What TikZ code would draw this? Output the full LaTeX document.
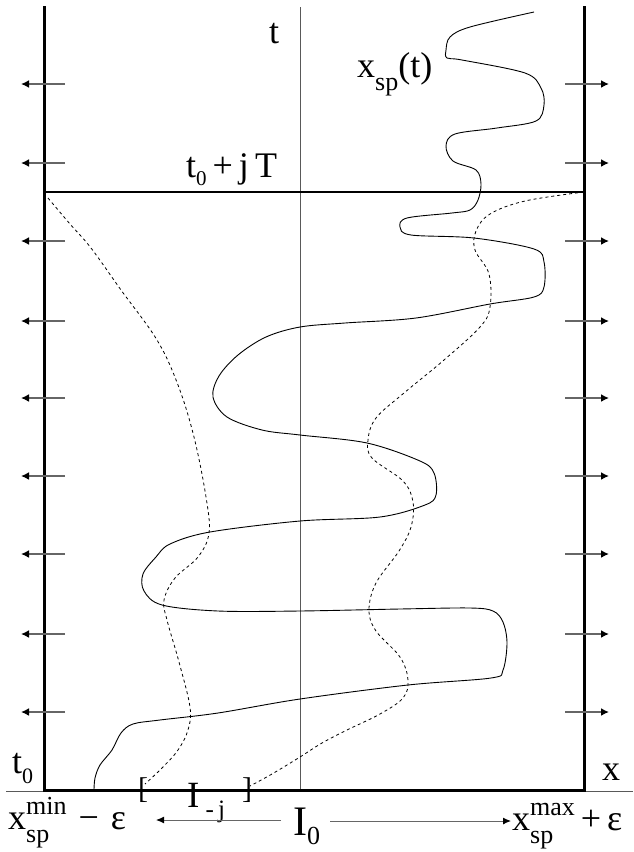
\documentclass[tikz,border=0pt]{standalone}
\usepackage{fontspec}
\setmainfont{Liberation Serif}
\usetikzlibrary{arrows.meta}
\newcommand\bigf{\fontsize{36}{36}\selectfont}
\newcommand\smf{\fontsize{26}{26}\selectfont}
\newcommand\lsub[3]{\raisebox{-#1pt}{\fontsize{#2}{#2}\selectfont #3}}
\newcommand\supsub[2]{\setbox0\hbox{\raisebox{15pt}{\smf #1}}\setbox2\hbox{\raisebox{-13pt}{\smf #2}}\ifdim\wd0>\wd2 \rlap{\box2}\box0\else\rlap{\box0}\box2\fi}
\tikzset{
  lbl/.style={inner sep=0pt, anchor=base west, font=\bigf},
  frame/.style={line width=3pt, line cap=rect},
  axis/.style={line width=1pt, draw=black!65},
  curve/.style={line width=0.9pt},
  dcurve/.style={line width=0.8pt, dash pattern=on 3pt off 3pt},
  side/.style={line width=1.6pt, draw=black!60, -{Latex[black,length=8pt,width=8pt]}},
  bot/.style={line width=1pt, draw=black!60, -{Latex[black,length=8pt,width=7pt]}},
  brk/.style={inner sep=0pt, font=\fontsize{30}{30}\selectfont},
}
\begin{document}
\begin{tikzpicture}[x=1pt,y=-1pt]
\useasboundingbox (0,0) rectangle (633,852);
% coordinates
\coordinate (tl) at (44,7);
\coordinate (tr) at (584,7);
\coordinate (bl) at (44,790);
\coordinate (br) at (584,790);
\coordinate (ml) at (44,192);
\coordinate (mr) at (584,192);
\coordinate (at) at (300,7);
\coordinate (ab) at (300,790);
\coordinate (al) at (6,791);
\coordinate (ar) at (633,791);
% axes
\draw[axis] (al) -- (ar);
\draw[axis] (at) -- (ab);
% frame
\draw[frame] (tl) -- (bl) -- (br) -- (tr);
\draw[line width=2.2pt] (ml) -- (mr);
% side arrows
\foreach \y in {84,163,241,321,398,476,554,634,712}{
  \coordinate (l0) at (65,\y); \coordinate (l1) at (21,\y);
  \coordinate (r0) at (565,\y); \coordinate (r1) at (609,\y);
  \draw[side] (l0) -- (l1);
  \draw[side] (r0) -- (r1);
}
% trajectory
\draw[curve] plot[smooth, tension=0.55] coordinates {
(534,12) (470,27) (450,37) (446,50) (447,58) (462,60) (525,73) (541,88) (544,105) (536,121) (497,128) (455,134) (446,146) (453,161) (476,170) (481,184) (478,200) (470,210) (452,213) (407,218) (400,227) (411,235) (474,238) (534,249) (544,262) (544,287) (534,297) (490,304) (416,318) (345,323) (300,327) (266,337) (238,355) (219,376) (213,397) (227,417) (262,430) (300,435) (367,443) (420,461) (434,473) (436,495) (425,505) (380,517) (300,521) (210,532) (170,544) (156,557) (143,574) (144,591) (162,605) (218,611) (300,611) (400,609) (470,608) (493,611) (503,622) (507,643) (503,670) (491,678) (408,685) (300,699) (218,713) (160,720) (133,724) (121,733) (112,750) (100,765) (95,778) (94,790)};
% dashed bounds
\draw[dcurve] plot[smooth, tension=0.6] coordinates {
(48,198) (70,224) (91,248) (121,290) (157,340) (178,385) (194,437) (206,497) (209,533) (198,557) (175,578) (164,600) (167,620) (179,662) (190,707) (188,730) (178,750) (162,768) (145,784)};
\draw[dcurve] plot[smooth, tension=0.6] coordinates {
(584,192) (525,201) (490,214) (476,231) (475,250) (489,274) (490,307) (480,327) (444,360) (404,393) (376,418) (368,440) (372,458) (403,481) (413,502) (411,527) (399,551) (376,583) (369,610) (376,631) (400,657) (408,680) (403,698) (380,714) (347,730) (322,743) (300,757) (272,774) (250,786)};
% labels
\node[lbl] (lt) at (269,43) {t};
\node[lbl] (lxsp) at (357,77) {x\lsub{13}{26}{sp}(t)};
\node[lbl] (ltj) at (186,177) {t\lsub{8}{21}{0}\,+\,j\,T};
\node[lbl] (lt0) at (12,773) {t\lsub{10}{22}{0}};
\node[lbl] (lx) at (602,780) {x};
\node[lbl] (lmin) at (8,829) {x\supsub{min}{sp}\,\,−\,\,ε};
\node[lbl] (lmax) at (512,830) {x\supsub{max}{sp}\,+\,ε};
\node[lbl, font=\fontsize{42}{42}\selectfont] (lI0) at (293,835) {I\lsub{9}{26}{0}};
\node[lbl, font=\fontsize{37}{37}\selectfont] (lIj) at (187,807) {I\,\lsub{10}{25}{-\,j}};
\node[brk] (lb1) at (143,790) {[};
\node[brk] (lb2) at (247,790) {]};
% bottom arrows
\coordinate (bl0) at (281,820); \coordinate (bl1) at (156,820);
\coordinate (br0) at (330,821); \coordinate (br1) at (511,821);
\draw[bot] (bl0) -- (bl1);
\draw[bot] (br0) -- (br1);
\end{tikzpicture}
\end{document}
